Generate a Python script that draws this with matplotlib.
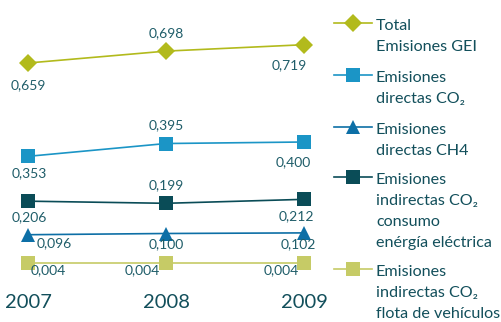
import matplotlib.pyplot as plt
from matplotlib.lines import Line2D

plt.rcParams['font.family'] = ['Lato', 'DejaVu Sans']

years = [2007, 2008, 2009]
year_labels = ['2007', '2008', '2009']

total_gei = [0.659, 0.698, 0.719]
directas_co2 = [0.353, 0.395, 0.400]
indirectas_co2_elec = [0.206, 0.199, 0.212]
directas_ch4 = [0.096, 0.100, 0.102]
indirectas_co2_flota = [0.004, 0.004, 0.004]

legend_labels = [
    ['Total', 'Emisiones GEI'],
    ['Emisiones', 'directas CO\u2082'],
    ['Emisiones', 'directas CH4'],
    ['Emisiones', 'indirectas CO\u2082', 'consumo', 'enérgía eléctrica'],
    ['Emisiones', 'indirectas CO\u2082', 'flota de vehículos'],
]

text_col = '#1f5d69'
legend_col = '#124f5b'

# (values, colour, marker, markersize, label offsets in pixels per point)
series = [
    (total_gei, '#b2ba1c', 'D', 9.5, [(0, -22), (0, 18), (-15, -20)]),
    (directas_co2, '#1b95c6', 's', 10, [(1, -17), (0, 18), (-11, -20)]),
    (directas_ch4, '#0d6fa6', '^', 10, [(26, -8), (0, -11), (-6, -11)]),
    (indirectas_co2_elec, '#0a4c57', 's', 10, [(1, -16), (0, 18), (-8, -17)]),
    (indirectas_co2_flota, '#c6cb66', 's', 10, [(20, -7), (-24, -7), (-23, -7)]),
]

fig = plt.figure(figsize=(5.02, 3.22), dpi=100)
ax = fig.add_axes([0, 0, 330 / 502, 1])
ax.set_xlim(2007 - 28 / 138, 2009 + 26 / 138)
ax.set_ylim((264 - 322) / 305, 264 / 305)
ax.axis('off')

for vals, col, mk, ms, offs in series:
    ax.plot(years, vals, color=col, lw=1.2, marker=mk, markersize=ms,
            markeredgewidth=0, zorder=3)
    for x, v, (dx, dy) in zip(years, vals, offs):
        ax.annotate(f'{v:.3f}'.replace('.', ','), (x, v), xytext=(dx, dy),
                    textcoords='offset pixels', ha='center', va='center',
                    fontsize=10, color=text_col)

for x, lab in zip(years, year_labels):
    ax.annotate(lab, (x, ax.get_ylim()[0]), xytext=(0, 20),
                textcoords='offset pixels', ha='center', va='center',
                fontsize=14.5, color=legend_col)

# legend drawn by hand so the handle sits beside the first text line
leg = fig.add_axes([0, 0, 1, 1])
leg.set_xlim(0, 502)
leg.set_ylim(322, 0)
leg.axis('off')
handle_y = [23, 75, 127, 177, 269]
for (vals, col, mk, ms, offs), lines, hy in zip(series, legend_labels, handle_y):
    leg.add_line(Line2D([334, 372], [hy, hy], color=col, lw=1.2))
    leg.add_line(Line2D([353], [hy], color=col, marker=mk, markersize=ms,
                        markeredgewidth=0))
    for i, line in enumerate(lines):
        leg.text(376, hy + 6.5 + 21.3 * i, line, ha='left', va='baseline',
                 fontsize=11.6, color=legend_col)

fig.savefig('out.png', dpi=100)
